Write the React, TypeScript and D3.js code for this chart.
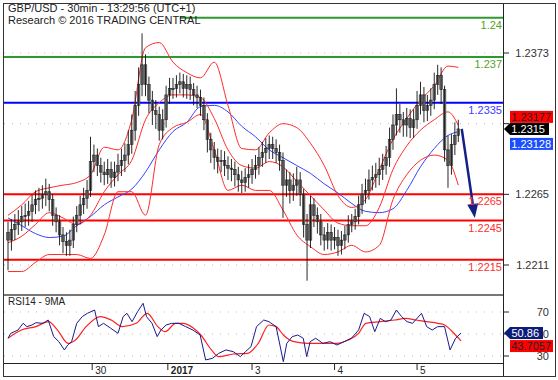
import React from "react";
import * as d3 from "d3";

// ---------- DATA ----------
const firstOpen = 1.2236;
const closes = [
  1.2230, 1.2238, 1.2242, 1.2244, 1.2248, 1.2249, 1.2252, 1.2257, 1.2261, 1.2262,
  1.2265, 1.2267, 1.2261, 1.2249, 1.2244, 1.2234, 1.2229, 1.2226, 1.2230, 1.2242,
  1.2249, 1.2257, 1.2262, 1.2268, 1.2290, 1.2295, 1.2287, 1.2282, 1.2280, 1.2284,
  1.2278, 1.2282, 1.2287, 1.2291, 1.2295, 1.2303, 1.2314, 1.2333, 1.2349, 1.2364,
  1.2349, 1.2337, 1.2329, 1.2326, 1.2314, 1.2322, 1.2341, 1.2346, 1.2346, 1.2349,
  1.2351, 1.2346, 1.2349, 1.2345, 1.2341, 1.2339, 1.2333, 1.2322, 1.2307, 1.2299,
  1.2293, 1.2290, 1.2291, 1.2287, 1.2285, 1.2284, 1.2280, 1.2276, 1.2274, 1.2278,
  1.2280, 1.2284, 1.2287, 1.2293, 1.2297, 1.2300, 1.2303, 1.2300, 1.2297, 1.2291,
  1.2272, 1.2276, 1.2268, 1.2272, 1.2276, 1.2265, 1.2242, 1.2230, 1.2257, 1.2249,
  1.2244, 1.2234, 1.2230, 1.2236, 1.2230, 1.2232, 1.2226, 1.2230, 1.2234, 1.2242,
  1.2244, 1.2248, 1.2257, 1.2265, 1.2268, 1.2276, 1.2278, 1.2280, 1.2284, 1.2287,
  1.2293, 1.2307, 1.2318, 1.2326, 1.2322, 1.2318, 1.2323, 1.2316, 1.2322, 1.2333,
  1.2341, 1.2329, 1.2333, 1.2337, 1.2349, 1.2356, 1.2345, 1.2299, 1.2287, 1.2303,
  1.2310, 1.2315,
];
const highs = [
  1.2244, 1.2246, 1.2250, 1.2253, 1.2256, 1.2258, 1.2260, 1.2265, 1.2268, 1.2270,
  1.2272, 1.2277, 1.2273, 1.2265, 1.2255, 1.2249, 1.2240, 1.2236, 1.2238, 1.2248,
  1.2256, 1.2264, 1.2270, 1.2276, 1.2309, 1.2303, 1.2300, 1.2293, 1.2290, 1.2292,
  1.2290, 1.2290, 1.2296, 1.2300, 1.2304, 1.2314, 1.2326, 1.2344, 1.2362, 1.2388,
  1.2372, 1.2355, 1.2344, 1.2337, 1.2332, 1.2330, 1.2348, 1.2354, 1.2354, 1.2356,
  1.2358, 1.2357, 1.2356, 1.2355, 1.2350, 1.2348, 1.2345, 1.2339, 1.2327, 1.2312,
  1.2305, 1.2300, 1.2299, 1.2298, 1.2294, 1.2292, 1.2290, 1.2286, 1.2283, 1.2285,
  1.2288, 1.2292, 1.2295, 1.2301, 1.2305, 1.2308, 1.2310, 1.2309, 1.2307, 1.2303,
  1.2297, 1.2284, 1.2282, 1.2281, 1.2286, 1.2282, 1.2269, 1.2250, 1.2264, 1.2262,
  1.2255, 1.2250, 1.2240, 1.2243, 1.2242, 1.2240, 1.2238, 1.2237, 1.2241, 1.2249,
  1.2250, 1.2254, 1.2264, 1.2273, 1.2277, 1.2284, 1.2287, 1.2289, 1.2293, 1.2296,
  1.2302, 1.2316, 1.2326, 1.2346, 1.2334, 1.2328, 1.2331, 1.2330, 1.2330, 1.2344,
  1.2351, 1.2347, 1.2341, 1.2346, 1.2358, 1.2364, 1.2362, 1.2348, 1.2310, 1.2311,
  1.2320, 1.2322,
];
const lows = [
  1.2207, 1.2222, 1.2230, 1.2234, 1.2237, 1.2240, 1.2241, 1.2244, 1.2250, 1.2252,
  1.2254, 1.2256, 1.2252, 1.2241, 1.2236, 1.2226, 1.2220, 1.2218, 1.2218, 1.2224,
  1.2236, 1.2242, 1.2250, 1.2254, 1.2263, 1.2282, 1.2279, 1.2274, 1.2272, 1.2273,
  1.2270, 1.2271, 1.2275, 1.2279, 1.2282, 1.2288, 1.2296, 1.2306, 1.2325, 1.2340,
  1.2340, 1.2327, 1.2318, 1.2315, 1.2306, 1.2307, 1.2316, 1.2334, 1.2338, 1.2339,
  1.2342, 1.2339, 1.2338, 1.2337, 1.2333, 1.2331, 1.2325, 1.2314, 1.2297, 1.2289,
  1.2284, 1.2281, 1.2282, 1.2279, 1.2276, 1.2275, 1.2271, 1.2267, 1.2266, 1.2267,
  1.2270, 1.2273, 1.2277, 1.2280, 1.2286, 1.2289, 1.2292, 1.2292, 1.2289, 1.2283,
  1.2247, 1.2263, 1.2258, 1.2260, 1.2264, 1.2256, 1.2232, 1.2199, 1.2224, 1.2240,
  1.2235, 1.2226, 1.2222, 1.2223, 1.2222, 1.2223, 1.2218, 1.2219, 1.2223, 1.2228,
  1.2236, 1.2238, 1.2242, 1.2250, 1.2258, 1.2261, 1.2268, 1.2270, 1.2272, 1.2276,
  1.2280, 1.2286, 1.2299, 1.2310, 1.2312, 1.2309, 1.2309, 1.2308, 1.2308, 1.2315,
  1.2326, 1.2320, 1.2321, 1.2325, 1.2330, 1.2341, 1.2334, 1.2290, 1.2270, 1.2280,
  1.2295, 1.2305,
];

// indicator samples (candle index positions)
const bandIdx = [0, 4, 8, 12, 16, 20, 24, 28, 32, 36, 40, 44, 48, 52, 56, 60, 64, 68, 72, 76,
  80, 84, 88, 92, 96, 100, 104, 108, 112, 116, 120, 124, 128, 131];
const upperBand = [1.2249, 1.2257, 1.2267, 1.2270, 1.2272, 1.2274, 1.2280, 1.2301, 1.2299, 1.2322,
  1.2377, 1.2381, 1.2366, 1.2358, 1.2354, 1.2366, 1.2333, 1.2300, 1.2299, 1.2312,
  1.2319, 1.2316, 1.2304, 1.2287, 1.2264, 1.2255, 1.2261, 1.2284, 1.2307, 1.2323,
  1.2337, 1.2348, 1.2363, 1.2362];
const middleBand = [1.2228, 1.2233, 1.2242, 1.2251, 1.2247, 1.2242, 1.2249, 1.2267, 1.2280, 1.2291,
  1.2322, 1.2335, 1.2341, 1.2341, 1.2339, 1.2323, 1.2299, 1.2287, 1.2285, 1.2290,
  1.2286, 1.2275, 1.2264, 1.2253, 1.2243, 1.2241, 1.2241, 1.2255, 1.2284, 1.2302,
  1.2314, 1.2322, 1.2328, 1.23177];
const lowerBand = [1.2206, 1.2206, 1.2213, 1.2219, 1.2219, 1.2219, 1.2216, 1.2234, 1.2267, 1.2267,
  1.2249, 1.2303, 1.2316, 1.2320, 1.2326, 1.2299, 1.2268, 1.2272, 1.2268, 1.2268,
  1.2253, 1.2234, 1.2225, 1.2219, 1.2221, 1.2226, 1.2221, 1.2226, 1.2261, 1.2280,
  1.2291, 1.2295, 1.2291, 1.2272];
const slowMA = [1.2247, 1.2241, 1.2235, 1.2232, 1.2233, 1.2241, 1.2248, 1.2257, 1.2263, 1.2269,
  1.2282, 1.2299, 1.2313, 1.2320, 1.2332, 1.2333, 1.2328, 1.2317, 1.2309, 1.2299,
  1.2293, 1.2287, 1.2281, 1.2273, 1.2266, 1.2258, 1.2252, 1.2251, 1.2254, 1.2268,
  1.2286, 1.2300, 1.2310, 1.23128];

const rsiIdx = [0, 0.8, 2.9, 4.4, 5.5, 7.0, 8.1, 10.2, 11.7, 13.3, 14.8, 16.4, 17.4, 18.5, 20.0,
  21.6, 23.1, 25.2, 26.3, 27.8, 29.9, 32.0, 33.5, 34.6, 36.1, 37.7, 39.3, 40.3, 41.9, 43.4,
  44.5, 46.0, 47.6, 49.7, 51.7, 53.8, 55.9, 57.5, 59.5, 61.3, 63.4, 65.5, 67.6, 69.1, 70.7,
  72.3, 74.4, 75.9, 78.0, 80.1, 81.1, 82.7, 84.3, 85.9, 86.9, 87.9, 89.5, 91.6, 93.7, 95.7,
  97.8, 99.9, 102.0, 103.6, 105.2, 106.7, 108.3, 109.8, 111.4, 113.0, 114.5, 116.1, 117.7,
  120.3, 121.8, 123.4, 125.0, 127.0, 128.6, 130.2, 131.8];
const rsiVals = [46.1, 50.6, 53.6, 59.7, 56.7, 58.2, 60.3, 59.7, 62.7, 47.6, 43.0, 35.5, 40.0, 43.0, 59.7,
  65.8, 68.8, 71.8, 56.7, 59.7, 55.2, 50.6, 65.8, 68.8, 61.2, 70.3, 77.9, 65.8, 59.7, 47.6,
  53.6, 58.2, 59.7, 59.7, 56.7, 53.6, 49.1, 26.4, 27.9, 32.4, 35.5, 34.0, 29.4, 34.0, 38.5,
  56.7, 62.7, 61.2, 56.7, 24.8, 41.5, 47.6, 49.1, 46.1, 29.4, 43.0, 46.1, 41.5, 43.0, 40.0,
  43.0, 46.1, 53.6, 68.8, 65.8, 52.1, 64.2, 61.2, 62.7, 71.8, 65.8, 61.2, 59.7,
  68.8, 56.7, 53.6, 56.7, 56.7, 35.5, 46.1, 50.86];
const rsiMaIdx = [0, 3.9, 8.1, 11.8, 14.4, 17.5, 19.6, 22.7, 26.9, 30.0, 33.2, 37.3, 40.5, 43.6, 45.7,
  48.8, 50.9, 54.0, 56.1, 59.2, 61.3, 65.5, 69.7, 72.8, 75.9, 78.0, 80.1, 83.2, 87.4, 91.6,
  95.7, 98.9, 102.0, 104.1, 108.3, 112.5, 115.6, 118.7, 121.8, 125.0, 127.0, 130.2, 131.8];
const rsiMaVals = [46.1, 53.6, 56.7, 61.2, 53.6, 41.5, 44.5, 56.7, 65.8, 62.7, 56.7, 59.7, 68.8, 56.7, 52.1,
  59.7, 59.7, 55.2, 49.1, 35.5, 29.4, 31.8, 32.4, 41.5, 58.2, 56.7, 49.1, 43.0, 41.5, 41.5,
  41.5, 44.5, 50.6, 59.7, 61.2, 62.7, 64.2, 62.7, 61.2, 59.7, 58.2, 49.1, 43.7057];

const levelValues = [1.24, 1.237, 1.2335, 1.2265, 1.2245, 1.2215];
const levelLabels = ["1.24", "1.237", "1.2335", "1.2265", "1.2245", "1.2215"];
const priceTicks = [1.2373, 1.2319, 1.2265, 1.2211];
const priceTickLabels = ["1.2373", "", "1.2265", "1.2211"]; // 1.2319 hidden behind the badges
const rsiTicks = [70, 50, 30];
const dayLabels = ["30", "2017", "3", "4", "5"];
const dayIdx = [24.5, 46.5, 71, 95, 119];
const lastPrice = 1.2315;
const bandBadge = 1.23177;
const maBadge = 1.23128;
const rsiLast = 50.86;
const rsiMaLast = 43.7057;
const arrowFrom = { idx: 132, price: 1.2315 };
const arrowTo = { idx: 135.8, price: 1.2247 };

// ---------- STYLE ----------
const levelColor = ["#2e9a2e", "#2e9a2e", "#0000ff", "#ff0000", "#ff0000", "#ff0000"];
const levelText = ["#5aa02a", "#5aa02a", "#4040ff", "#ff3030", "#ff3030", "#ff3030"];
const FONT = "'Liberation Sans', Arial, sans-serif";

export default function App() {
  const W = 558, H = 380;
  const plotL = 4, plotR = 503, mainT = 4, mainB = 295, rsiT = 295, rsiB = 363;
  const x = d3.scaleLinear().domain([0, 131]).range([8, 458.3]);
  const y = d3.scaleLinear().domain([1.2373, 1.2211]).range([53, 265]);
  const ry = d3.scaleLinear().domain([30, 70]).range([356, 312]);

  const bandLine = (vals: number[]) =>
    d3.line<number>().x((_, i) => x(bandIdx[i])).y((v) => y(v)).curve(d3.curveMonotoneX)(vals) || "";
  const rsiLine = d3.line<number>().x((_, i) => x(rsiIdx[i])).y((v) => ry(v))(rsiVals) || "";
  const rsiMaLine = d3.line<number>().x((_, i) => x(rsiMaIdx[i])).y((v) => ry(v)).curve(d3.curveMonotoneX)(rsiMaVals) || "";

  const bodyW = 2.6;
  const candles = closes.map((c, i) => {
    const o = i === 0 ? firstOpen : closes[i - 1];
    const cx = x(i);
    const top = y(Math.max(o, c));
    const bot = y(Math.min(o, c));
    return (
      <g key={i}>
        <rect x={cx - bodyW / 2} y={top} width={bodyW} height={Math.max(1.2, bot - top)}
          fill="#8e8e8e" stroke="#2a2a2a" strokeWidth={0.6} />
        <line x1={cx} x2={cx} y1={y(highs[i])} y2={y(lows[i])} stroke="#111" strokeWidth={0.9} />
      </g>
    );
  });

  const ax1 = x(arrowFrom.idx), ay1 = y(arrowFrom.price);
  const ax2 = x(arrowTo.idx), ay2 = y(arrowTo.price);
  const ang = Math.atan2(ay2 - ay1, ax2 - ax1);
  const headL = 14, headW = 5.5;
  const bx = ax2 - headL * Math.cos(ang), by = ay2 - headL * Math.sin(ang);
  const head = [
    [ax2, ay2],
    [bx + headW * Math.sin(ang), by - headW * Math.cos(ang)],
    [bx - headW * Math.sin(ang), by + headW * Math.cos(ang)],
  ].map((p) => p.join(",")).join(" ");

  const pY = y(lastPrice);
  const rY = ry(rsiLast);

  return (
    <svg width={W} height={H} style={{ position: "absolute", left: 0, top: 0, display: "block" }}
      fontFamily={FONT}>
      <defs>
        <clipPath id="mainClip"><rect x={plotL} y={mainT} width={plotR - plotL} height={mainB - mainT} /></clipPath>
        <clipPath id="rsiClip"><rect x={plotL} y={rsiT + 1} width={plotR - plotL} height={rsiB - rsiT - 1} /></clipPath>
      </defs>
      <rect x={0} y={0} width={W} height={H} fill="#fff" />

      {priceTicks.map((t) => (
        <line key={t} x1={plotL} x2={plotR} y1={y(t)} y2={y(t)} stroke="#bdbdbd" strokeDasharray="1,7" />
      ))}
      {rsiTicks.map((t) => (
        <line key={t} x1={plotL} x2={plotR} y1={ry(t)} y2={ry(t)} stroke="#bdbdbd" strokeDasharray="1,7" />
      ))}

      <g clipPath="url(#mainClip)">
        {levelValues.map((v, i) => (
          <line key={v} x1={plotL} x2={plotR} y1={y(v)} y2={y(v)} stroke={levelColor[i]} strokeWidth={2} />
        ))}
        <path d={bandLine(slowMA)} fill="none" stroke="#3344ff" strokeWidth={1} />
        <path d={bandLine(upperBand)} fill="none" stroke="#ff2a2a" strokeWidth={1} />
        <path d={bandLine(middleBand)} fill="none" stroke="#ff2a2a" strokeWidth={1} />
        <path d={bandLine(lowerBand)} fill="none" stroke="#ff2a2a" strokeWidth={1} />
        {candles}
        <line x1={ax1} y1={ay1} x2={bx} y2={by} stroke="#14208a" strokeWidth={2.5} />
        <polygon points={head} fill="#14208a" />
        {levelValues.map((v, i) => (
          <text key={"l" + v} x={plotR - 1} y={y(v) + 11} textAnchor="end" fontSize={11} fill={levelText[i]}>
            {levelLabels[i]}
          </text>
        ))}
      </g>

      <rect x={plotL} y={mainT} width={176} height={24} fill="#fff" />
      <text x={8} y={12} fontSize={11} fill="#222">GBP/USD - 30min - 13:29:56 (UTC+1)</text>
      <text x={8} y={24} fontSize={11} fill="#222">Research © 2016 TRADING CENTRAL</text>

      <g clipPath="url(#rsiClip)">
        <path d={rsiMaLine} fill="none" stroke="#ff2020" strokeWidth={1.2} />
        <path d={rsiLine} fill="none" stroke="#1a1a8c" strokeWidth={1} />
      </g>
      <text x={8} y={305} fontSize={10} fill="#222">RSI14 - 9MA</text>

      <line x1={3} x2={plotR} y1={295} y2={295} stroke="#777" strokeWidth={2} />
      <line x1={3} x2={plotR} y1={363.5} y2={363.5} stroke="#222" strokeWidth={1} />
      <line x1={503.5} x2={503.5} y1={3} y2={377} stroke="#222" strokeWidth={1} />
      <rect x={3.5} y={3.5} width={552} height={373} fill="none" stroke="#333" strokeWidth={1} />

      {priceTicks.map((t, i) => (
        <g key={"pt" + t}>
          <line x1={503} x2={509} y1={y(t)} y2={y(t)} stroke="#222" />
          {priceTickLabels[i] && (
            <text x={549} y={y(t) + 4} textAnchor="end" fontSize={11} fill="#333">{priceTickLabels[i]}</text>
          )}
        </g>
      ))}
      {rsiTicks.map((t) => (
        <g key={"rt" + t}>
          <line x1={503} x2={509} y1={ry(t)} y2={ry(t)} stroke="#222" />
          <text x={549} y={ry(t) + 4} textAnchor="end" fontSize={11} fill="#333">{t}</text>
        </g>
      ))}

      <rect x={510} y={pY - 18} width={43} height={12} fill="#ff0000" />
      <text x={551} y={pY - 8} textAnchor="end" fontSize={11} fill="#222">{bandBadge.toFixed(5)}</text>
      <polygon points={`504,${pY} 510,${pY - 6} 549,${pY - 6} 549,${pY + 6} 510,${pY + 6}`} fill="#000" />
      <text x={545} y={pY + 4} textAnchor="end" fontSize={11} fill="#fff">{lastPrice.toFixed(4)}</text>
      <rect x={510} y={pY + 9} width={43} height={12} fill="#1a4dff" />
      <text x={551} y={pY + 19} textAnchor="end" fontSize={11} fill="#fff">{maBadge.toFixed(5)}</text>

      <polygon points={`504,${rY} 510,${rY - 6} 543,${rY - 6} 543,${rY + 6} 510,${rY + 6}`} fill="#0c1c7a" />
      <text x={539} y={rY + 4} textAnchor="end" fontSize={11} fill="#fff">{rsiLast.toFixed(2)}</text>
      <rect x={510} y={rY + 7} width={43} height={12} fill="#ff0000" />
      <text x={551} y={rY + 17} textAnchor="end" fontSize={11} fill="#222">{rsiMaLast.toFixed(4)}</text>

      {dayIdx.map((d, i) => (
        <g key={"d" + i}>
          <line x1={x(d)} x2={x(d)} y1={364} y2={370} stroke="#222" />
          <text x={x(d) + 3} y={374} fontSize={10} fontWeight={dayLabels[i] === "2017" ? "bold" : "normal"} fill="#222">
            {dayLabels[i]}
          </text>
        </g>
      ))}
    </svg>
  );
}
